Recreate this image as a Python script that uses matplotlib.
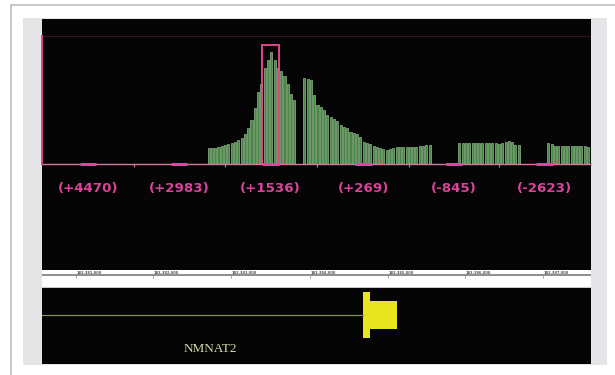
#!/usr/bin/env python3
import matplotlib
matplotlib.use("Agg")
import matplotlib.pyplot as plt
from matplotlib.patches import Rectangle
from matplotlib.lines import Line2D

# ---- data (signal track, in bins along the locus) ----
n_bins = 166.4
bar_start = [50, 79, 126, 153]
bar_heights = [
    [16, 16, 16, 17, 18, 19, 20, 21, 22, 24, 26, 30, 36, 44, 56, 72, 80,
     96, 104, 112, 104, 96, 93, 88, 80, 70, 64],
    [86, 85, 84, 69, 59, 57, 54, 49, 47, 45, 43, 39, 37, 36, 32, 31, 30,
     27, 22, 21, 20, 18, 17, 16, 15, 14, 15, 16, 17, 17, 17, 17, 17, 17,
     17, 18, 18, 19, 19],
    [21, 21, 21, 21, 21, 21, 21, 21, 21, 21, 21, 21, 20, 21, 22, 23, 22,
     19, 19],
    [21, 20, 18, 18, 18, 18, 18, 18, 18, 18, 18, 18, 17],
]
y_max = 128

site_labels = ["(+4470)", "(+2983)", "(+1536)", "(+269)", "(-845)", "(-2623)"]
site_pos = [14.0, 41.6, 69.3, 97.4, 124.8, 152.3]
site_width = 5.0
highlight = (66.7, 71.8, 119)   # x0, x1, top of boxed site

ruler_pos = [14.2, 37.6, 61.2, 85.2, 108.8, 132.1, 155.8]
ruler_labels = ["183,381,000", "183,382,000", "183,383,000", "183,384,000",
                "183,385,000", "183,386,000", "183,387,000"]

gene_name = "NMNAT2"
intron = (0, 97.3)
utr = (97.3, 99.4, 46)     # x0, x1, height
exon = (99.4, 107.6, 28)
gene_y = 49

pink = "#d9449a"
W, H = 615, 375


def px_axes(fig, x0, y0, x1, y1, **kw):
    return fig.add_axes([x0 / W, 1 - y1 / H, (x1 - x0) / W, (y1 - y0) / H], **kw)


fig = plt.figure(figsize=(6.15, 3.75), dpi=100, facecolor="white")

# page frame and grey panel
fig.add_artist(Line2D([11 / W, 1], [1 - 4.5 / H] * 2, color="#c4c4c4", lw=1.3, zorder=-2))
fig.add_artist(Line2D([11 / W] * 2, [0, 1 - 4.5 / H], color="#c4c4c4", lw=1.3, zorder=-2))
fig.add_artist(Rectangle((23 / W, 1 - 365 / H), (607 - 23) / W, (365 - 18) / H,
                         facecolor="#e5e5e7", edgecolor="none", zorder=-2))

# black image area
bg = px_axes(fig, 42, 19, 591, 364, facecolor="#050505")
bg.set_xticks([])
bg.set_yticks([])
for s in bg.spines.values():
    s.set_visible(False)

# signal track
ax = px_axes(fig, 42, 36, 591, 164)
ax.patch.set_alpha(0)
for start, hs in zip(bar_start, bar_heights):
    xs = [start + i + 0.5 for i in range(len(hs))]
    ax.bar(xs, hs, width=0.62, color="#4a8646", edgecolor="#a8d8a2", linewidth=0.4)
ax.set_xlim(0, n_bins)
ax.set_ylim(0, y_max)
for s in ax.spines.values():
    s.set_visible(False)
ax.axhline(y_max, color="#3a1218", lw=0.8)
ax.axhline(0, color="#d27aa0", lw=1.0, clip_on=False)
ax.axvline(0, color="#d8448a", lw=1.4, clip_on=False)
for p in site_pos:
    ax.plot([p - site_width / 2, p + site_width / 2], [0, 0], color="#e8409c",
            lw=2.2, solid_capstyle="butt", clip_on=False)
mids = [(a + b) / 2 for a, b in zip(site_pos[:-1], site_pos[1:])]
ax.set_xticks(mids)
ax.set_xticklabels([])
ax.set_yticks([])
ax.tick_params(axis="x", direction="out", length=2.5, width=0.8, color="#d27aa0")
hx0, hx1, htop = highlight
ax.add_patch(Rectangle((hx0, 0), hx1 - hx0, htop, fill=False, edgecolor="#e2468c",
                       lw=1.4, clip_on=False))
for lab, p in zip(site_labels, site_pos):
    ax.text(p, -0.19, lab, transform=ax.get_xaxis_transform(), ha="center",
            va="center", color=pink, fontsize=9.6, fontweight="bold",
            family="DejaVu Sans")

# ruler strip
rul = px_axes(fig, 42, 270, 591, 288, facecolor="white")
rul.set_xlim(0, n_bins)
rul.set_ylim(0, 18)
rul.set_xticks([])
rul.set_yticks([])
for s in rul.spines.values():
    s.set_visible(False)
rul.axhline(13, color="#7c7c7c", lw=1.2)
rul.axhline(1.5, color="#c9c9c9", lw=0.8)
for p, lab in zip(ruler_pos, ruler_labels):
    rul.text(p, 15.2, lab, ha="center", va="center", fontsize=2.6,
             color="#555555", fontweight="bold")
    rul.plot([p - 3.9, p - 3.9], [13, 10], color="#8a8a8a", lw=0.5)

# gene track
gax = px_axes(fig, 42, 288, 591, 364)
gax.patch.set_alpha(0)
gax.set_xlim(0, n_bins)
gax.set_ylim(0, 76)
gax.set_xticks([])
gax.set_yticks([])
for s in gax.spines.values():
    s.set_visible(False)
gax.plot(intron, [gene_y, gene_y], color="#8c8c58", lw=0.9)
gax.add_patch(Rectangle((utr[0], gene_y - utr[2] / 2), utr[1] - utr[0], utr[2],
                        facecolor="#e8e41e", edgecolor="none"))
gax.add_patch(Rectangle((exon[0], gene_y - exon[2] / 2), exon[1] - exon[0], exon[2],
                        facecolor="#e8e41e", edgecolor="none"))
gax.text(50.9, 15, gene_name, ha="center", va="center", fontsize=9.5,
         color="#d7dba6", family="Liberation Serif")

plt.savefig("out.png", dpi=100, facecolor="white")
